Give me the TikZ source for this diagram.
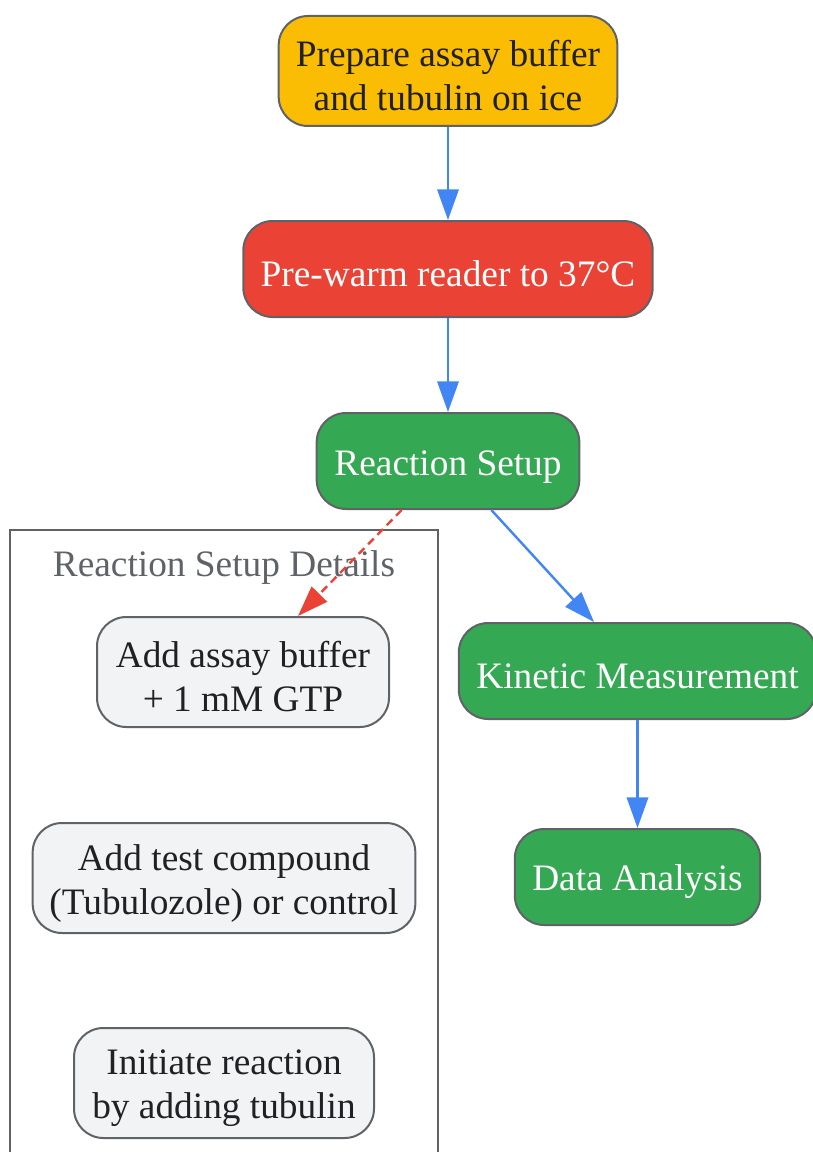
\documentclass[tikz,border=0pt]{standalone}
\usepackage{fontspec}
\setmainfont{Liberation Serif}
\usetikzlibrary{arrows.meta}

\definecolor{gyellow}{HTML}{FBBC04}
\definecolor{gred}{HTML}{EA4335}
\definecolor{ggreen}{HTML}{34A853}
\definecolor{glight}{HTML}{F1F3F4}
\definecolor{gblue}{HTML}{4285F4}
\definecolor{gline}{HTML}{5F6368}
\definecolor{gtext}{HTML}{202124}

\newcommand{\topstrut}{\rule{0pt}{27pt}}

\tikzset{
	stepnode/.style={draw=gline, line width=1.5pt, rounded corners=22pt,
		align=center, minimum height=72pt, inner sep=0pt,
		font=\fontsize{28}{33}\selectfont, execute at begin node=\topstrut},
	flow/.style={-{Triangle[length=23pt,width=16pt]}, draw=gblue, line width=1.8pt},
	detail/.style={-{Triangle[length=23pt,width=16pt]}, draw=gred, line width=1.8pt,
		dash pattern=on 6pt off 4pt},
}

\begin{document}
\begin{tikzpicture}[x=0.75pt,y=-0.75pt]

	% frame
	\useasboundingbox (0,0) rectangle (813,1152);
	\clip (0,0) rectangle (813,1152);

	% cluster
	\draw[gline, line width=1.5pt] (10,1160) -- (10,530) -- (438,530) -- (438,1160);
	\node[text=gline, font=\fontsize{28}{33}\selectfont] (cluster) at (224,568) {Reaction Setup Details};

	% main steps
	\node[stepnode, fill=gyellow, text=gtext, minimum width=254pt, minimum height=82.5pt]
		(prep) at (448,71) {\topstrut Prepare assay buffer\\and tubulin on ice};
	\node[stepnode, fill=gred, text=white, minimum width=307pt]
		(warm) at (448,269) {Pre-warm reader to 37°C};
	\node[stepnode, fill=ggreen, text=white, minimum width=197pt]
		(setup) at (448,461) {Reaction Setup};
	\node[stepnode, fill=ggreen, text=white, minimum width=268pt]
		(kinetic) at (637.5,671) {Kinetic Measurement};
	\node[stepnode, fill=ggreen, text=white, minimum width=184pt]
		(analysis) at (637.5,877) {Data Analysis};

	% detail steps
	\node[stepnode, fill=glight, text=gtext, minimum width=219pt, minimum height=82.5pt]
		(buffer) at (243,672) {\topstrut Add assay buffer\\+ 1 mM GTP};
	\node[stepnode, fill=glight, text=gtext, minimum width=287pt, minimum height=82.5pt]
		(compound) at (224,878) {\topstrut Add test compound\\(Tubulozole) or control};
	\node[stepnode, fill=glight, text=gtext, minimum width=225pt, minimum height=82.5pt]
		(initiate) at (224,1083) {\topstrut Initiate reaction\\by adding tubulin};

	% edges
	\draw[flow] (prep) -- (warm);
	\draw[flow] (warm) -- (setup);
	\draw[flow] (setup.south east) ++(-89,0) coordinate (s1) (s1) -- (kinetic.north west -| 594,0);
	\draw[flow] (kinetic) -- (analysis);
	\draw[detail] (setup.south west) ++(86,0) coordinate (s2) (s2) -- (buffer.north east -| 298,0);

\end{tikzpicture}
\end{document}
